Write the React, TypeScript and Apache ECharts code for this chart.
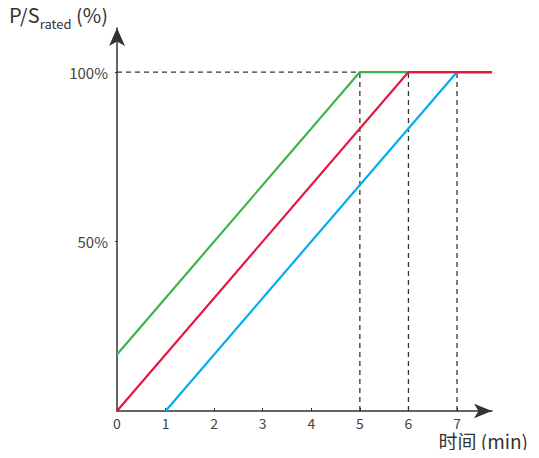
import React, { useEffect, useRef } from "react";
import * as echarts from "echarts";

const xTicks = [0, 1, 2, 3, 4, 5, 6, 7];
const yTicks = [50, 100];
const xMax = 7.72;
const yMax = 113;
const greenLine = [[0, 16.67], [5, 100], [7.72, 100]];
const redLine = [[0, 0], [6, 100], [7.72, 100]];
const blueLine = [[1, 0], [7, 100], [7.72, 100]];
const dashH = [[0, 100], [5, 100]];
const dashV5 = [[5, 0], [5, 100]];
const dashV6 = [[6, 0], [6, 100]];
const dashV7 = [[7, 0], [7, 100]];

const FONT = "'Noto Sans CJK SC', 'Noto Sans', sans-serif";

export default function App() {
  const ref = useRef<HTMLDivElement>(null);
  useEffect(() => {
    const chart = echarts.init(ref.current!, null, { renderer: "svg" });
    const dashStyle = { color: "#333", width: 1.3, type: [5, 4] as any };
    const dashSeries = [dashH, dashV5, dashV6, dashV7].map((d) => ({
      type: "line",
      data: d,
      symbol: "none",
      lineStyle: dashStyle,
      z: 1,
      silent: true,
    }));
    chart.setOption({
      animation: false,
      textStyle: { fontFamily: FONT },
      grid: { left: 117, right: 47, top: 28, bottom: 47, containLabel: false },
      xAxis: {
        type: "value",
        min: 0,
        max: xMax,
        splitLine: { show: false },
        axisLine: {
          lineStyle: { color: "#333", width: 1.5 },
          symbol: ["none", "arrow"],
          symbolSize: [11, 18],
          symbolOffset: [0, 0],
        },
        axisTick: { inside: true, length: 3, customValues: xTicks, lineStyle: { color: "#333" } },
        axisLabel: {
          customValues: xTicks,
          color: "#444",
          fontSize: 14,
          margin: 5,
          fontFamily: FONT,
        },
      },
      yAxis: {
        type: "value",
        min: 0,
        max: yMax,
        splitLine: { show: false },
        axisLine: {
          lineStyle: { color: "#333", width: 1.5 },
          symbol: ["none", "arrow"],
          symbolSize: [12, 18],
        },
        axisTick: { inside: false, length: 2, customValues: yTicks, lineStyle: { color: "#333" } },
        axisLabel: {
          customValues: yTicks,
          formatter: (v: number) => v + "%",
          color: "#444",
          fontSize: 15,
          margin: 9,
          fontFamily: FONT,
        },
      },
      graphic: [
        {
          type: "text",
          left: 9,
          top: 4,
          style: {
            text: "{a|P/S}{b|rated}{a| (%)}",
            rich: {
              a: { fontSize: 20, fill: "#333", fontFamily: FONT, verticalAlign: "bottom", lineHeight: 26 },
              b: { fontSize: 13, fill: "#333", fontFamily: FONT, verticalAlign: "bottom", lineHeight: 20, padding: [0, 0, -6, 0] },
            },
          },
        },
        {
          type: "text",
          right: 11,
          top: 431,
          style: { text: "时间 (min)", fontSize: 19, fill: "#333", fontFamily: FONT },
        },
      ],
      series: [
        ...dashSeries,
        { type: "line", data: greenLine, symbol: "none", lineStyle: { color: "#3bb54a", width: 2.2 }, z: 3 },
        { type: "line", data: blueLine, symbol: "none", lineStyle: { color: "#00aeef", width: 2.2 }, z: 3 },
        { type: "line", data: redLine, symbol: "none", lineStyle: { color: "#e5173f", width: 2.2 }, z: 4 },
      ],
    });
    return () => chart.dispose();
  }, []);
  return <div ref={ref} style={{ width: 539, height: 458, margin: -8 }} />;
}
